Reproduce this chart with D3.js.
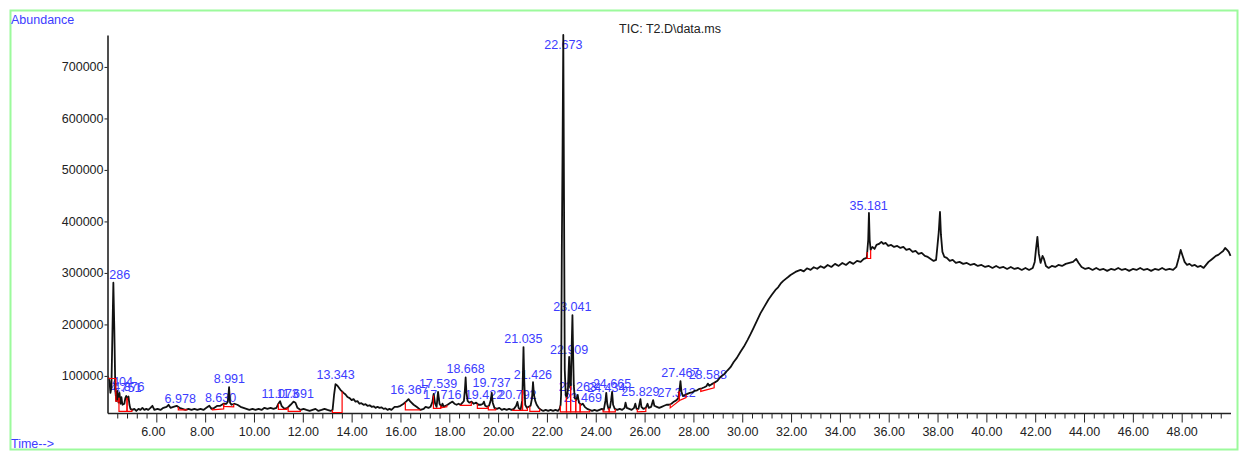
<!DOCTYPE html>
<html>
<head>
<meta charset="utf-8">
<script src="https://cdn.jsdelivr.net/npm/d3@7"></script>
<style>
  body { margin: 0; background: #fff; }
  svg text { font-family: "Liberation Sans", Arial, sans-serif; }
</style>
</head>
<body>
<svg id="chart" width="1240" height="451"></svg>
<script>

// TIC trace, [time (min), abundance]
var ticTrace = [
  [4.00,100000],[4.04,96000],[4.08,90000],[4.12,67000],[4.16,77000],[4.20,180000],[4.24,281000],[4.28,189000],
  [4.32,73000],[4.36,51000],[4.40,71000],[4.45,48000],[4.49,67000],[4.53,46000],[4.57,59000],[4.61,44000],
  [4.69,46000],[4.73,57000],[4.77,61000],[4.82,55000],[4.86,60000],[4.90,44000],[4.94,36000],[5.02,34000],
  [5.10,36000],[5.18,32000],[5.27,36000],[5.35,34000],[5.43,38000],[5.51,34000],[5.59,36000],[5.67,34000],
  [5.76,38000],[5.84,42000],[5.92,34000],
  [6.05,36000],[6.17,34000],[6.29,38000],[6.42,40000],[6.50,44000],[6.58,38000],[6.70,40000],[6.83,42000],
  [6.95,38000],[7.07,36000],[7.19,34000],[7.32,36000],[7.44,34000],[7.56,36000],[7.68,34000],[7.81,36000],
  [7.93,34000],[8.05,38000],[8.17,42000],[8.26,36000],[8.38,38000],[8.50,42000],[8.62,42000],[8.75,46000],
  [8.87,46000],[8.93,50000],[8.98,78000],[9.02,48000],[9.08,44000],[9.20,46000],[9.32,44000],[9.45,40000],
  [9.57,38000],[9.69,36000],[9.81,34000],[9.94,36000],
  [10.06,34000],[10.19,36000],[10.31,34000],[10.43,38000],[10.55,36000],[10.68,38000],[10.80,36000],[10.92,38000],
  [11.00,46000],[11.07,51000],[11.13,42000],[11.25,36000],[11.37,38000],[11.50,44000],[11.62,50000],[11.70,48000],
  [11.78,38000],[11.91,34000],[12.03,36000],[12.15,34000],[12.28,32000],[12.40,34000],[12.52,36000],[12.64,32000],
  [12.77,34000],[12.89,36000],[13.01,34000],[13.14,32000],[13.22,34000],[13.28,63000],[13.34,84000],[13.42,81000],
  [13.54,73000],[13.67,67000],[13.75,64000],[13.83,59000],[13.92,57000],[14.00,53000],[14.08,55000],[14.16,50000],
  [14.24,51000],[14.32,46000],[14.40,47000],[14.49,44000],[14.57,45000],[14.65,42000],[14.74,43000],[14.82,40000],
  [14.90,41000],[14.98,38000],[15.06,40000],[15.14,38000],[15.22,39000],[15.31,36000],[15.39,37000],[15.47,34000],
  [15.55,36000],[15.63,34000],[15.76,40000],[15.88,40000],[16.00,42000],[16.13,46000],[16.25,51000],[16.33,55000],
  [16.41,50000],[16.54,44000],[16.66,40000],
  [16.82,34000],[16.95,36000],[17.03,40000],[17.15,38000],[17.23,40000],[17.31,49500],[17.36,65000],[17.42,46000],
  [17.48,40000],[17.54,69000],[17.60,46000],[17.68,40000],[17.72,46000],[17.78,40000],[17.85,42000],[17.93,44000],
  [18.05,48000],[18.13,50000],[18.21,46000],[18.30,44000],[18.38,46000],[18.46,44000],[18.54,48000],[18.60,51500],
  [18.64,73000],[18.67,97000],[18.70,69000],[18.75,51500],[18.82,48000],[18.91,50000],[19.00,46000],[19.10,48000],
  [19.20,44000],[19.30,44000],[19.38,46000],[19.42,50000],[19.47,42000],[19.55,40000],[19.63,42000],[19.70,53000],
  [19.74,67000],[19.78,48000],[19.85,38000],[19.95,36000],[20.05,38000],[20.15,34000],[20.25,36000],[20.35,34000],
  [20.45,36000],[20.55,34000],[20.65,36000],[20.74,42000],[20.79,49500],[20.84,38000],[20.92,34000],[20.99,53000],
  [21.02,112000],[21.04,156000],[21.07,92000],[21.11,44000],[21.18,38000],[21.25,40000],[21.33,42000],[21.39,57000],
  [21.43,88000],[21.47,63000],[21.52,51500],[21.58,44000],[21.66,38000],[21.76,34000],[21.85,32000],[21.95,34000],
  [22.05,32000],[22.15,34000],[22.25,32000],[22.35,34000],[22.45,32000],[22.52,36000],
  [22.56,44000],[22.58,63000],[22.61,345000],[22.64,539000],[22.67,762000],[22.70,442000],[22.73,112000],[22.77,63000],
  [22.81,57000],[22.86,73000],[22.91,137000],[22.95,77000],[22.98,82000],[23.02,170000],[23.045,218000],[23.07,150000],
  [23.10,82000],[23.14,57000],[23.20,53000],[23.26,63000],[23.31,48000],[23.40,44000],[23.47,46000],[23.55,40000],
  [23.65,36000],[23.75,34000],
  [23.85,32000],[23.95,34000],[24.05,32000],[24.15,34000],[24.25,36000],[24.33,34000],[24.40,53000],[24.43,67000],
  [24.47,46000],[24.52,36000],[24.58,38000],[24.63,53000],[24.67,69000],[24.71,44000],[24.78,36000],[24.88,34000],
  [24.98,36000],[25.08,34000],[25.18,38000],[25.22,48000],[25.27,38000],[25.37,36000],[25.47,34000],[25.57,38000],
  [25.62,46000],[25.67,36000],[25.75,36000],[25.83,55000],[25.87,40000],[25.95,36000],[26.05,38000],[26.12,46000],
  [26.17,38000],[26.27,40000],[26.35,53000],[26.40,42000],[26.50,40000],[26.60,38000],[26.70,40000],[26.80,42000],
  [26.90,44000],[27.00,44000],[27.10,46000],[27.20,50000],[27.31,53000],[27.38,57000],[27.43,73000],[27.47,90000],
  [27.51,69000],[27.57,61000],[27.65,63000],[27.75,65000],[27.85,67000],[27.95,68000],[28.05,71000],[28.15,72000],
  [28.25,75000],[28.35,76000],[28.45,78000],[28.53,80000],[28.59,85000],[28.65,81000],[28.75,84000],[28.83,86000],
  [28.97,90000],[29.11,98000],[29.25,103000],[29.40,111000],[29.52,117000],[29.65,127000],[29.78,135000],[29.93,147000],
  [30.07,157000],[30.22,170000],[30.34,181000],[30.46,193000],[30.60,207000],[30.75,222000],[30.90,234000],[31.07,248000],
  [31.22,258000],[31.36,267000],[31.47,272000],[31.57,279000],[31.67,284000],[31.77,288000],[31.88,292000],[31.98,296000],
  [32.08,299000],[32.18,302000],[32.28,304000],[32.39,306000],[32.52,303000],[32.65,309000],[32.80,306000],[32.93,311000],
  [33.07,308000],[33.21,313000],
  [33.35,309700],[33.50,315500],[33.65,311600],[33.80,317500],[33.95,313600],[34.10,319400],[34.25,315500],[34.40,321400],
  [34.55,317500],[34.70,323300],[34.85,321400],[34.98,327200],[35.10,329100],[35.16,364000],[35.19,416500],[35.22,364000],
  [35.26,344700],[35.33,350500],[35.42,346600],[35.50,354400],[35.60,356300],[35.70,360200],[35.78,356300],[35.88,358200],
  [35.98,352400],[36.10,354400],[36.22,350500],[36.35,352400],[36.48,348500],[36.60,350500],[36.72,344700],[36.85,346600],
  [36.98,340800],[37.10,342700],[37.22,336900],[37.35,338900],[37.48,333000],[37.60,331000],[37.72,327200],[37.84,323300],
  [37.94,325200],[38.00,354400],[38.05,379600],[38.10,418400],[38.14,373800],[38.20,340800],[38.28,331000],[38.38,329100],
  [38.50,323300],[38.62,325200],[38.75,319400],[38.90,321400],[39.05,317500],[39.20,319400],[39.35,315500],[39.50,317500],
  [39.65,313600],[39.80,315500],[39.95,311600],[40.10,313600],[40.25,309700],[40.40,313600],[40.55,309700],[40.70,311600],
  [40.85,307700],[41.00,311600],[41.15,307700],[41.30,309700],[41.45,305800],[41.60,309700],[41.75,305800],[41.90,309700],
  [41.98,321400],[42.03,344700],[42.09,369900],[42.15,336900],[42.22,319400],[42.30,333000],[42.36,327200],[42.44,313600],
  [42.55,309700],[42.68,313600],[42.82,311600],[42.95,315500],[43.10,313600],[43.25,317500],[43.40,319400],[43.55,321400],
  [43.68,327200],[43.78,319400],[43.90,311600],[44.05,307700],[44.20,309700],[44.35,305800],[44.50,309700],[44.65,305800],
  [44.80,307700],[44.95,303900],[45.10,307700],[45.25,305800],[45.40,309700],[45.55,305800],[45.70,307700],[45.85,303900],
  [46.00,307700],[46.15,305800],[46.30,309700],[46.45,305800],[46.60,307700],[46.75,303900],[46.90,307700],[47.05,305800],
  [47.20,309700],[47.35,305800],[47.50,307700],[47.65,305800],[47.78,311600],[47.88,329100],[47.96,344700],[48.04,333000],
  [48.12,321400],[48.22,315500],[48.32,317500],[48.42,313600],[48.54,315500],[48.66,311600],[48.78,313600],[48.90,309700],
  [49.00,315500],[49.10,321400],[49.20,325200],[49.30,329100],[49.40,333000],[49.50,335000],[49.60,338900],[49.70,342700],
  [49.78,348500],[49.86,344700],[49.93,340800],[50.00,333000]
];

// integrated peaks: retention time and label anchor height
var peakTimes = [4.286, 4.404, 4.751, 4.876, 6.978, 8.630, 8.991, 11.073, 11.691, 13.343, 16.367, 17.539,
  17.716, 18.668, 19.422, 19.737, 20.792, 21.035, 21.426, 22.673, 22.909, 23.041, 23.263, 23.469,
  24.434, 24.665, 25.829, 27.312, 27.467, 28.588, 35.181];
var peakHeights = [280600, 72800, 61000, 63000, 39800, 41700, 78600, 49500, 49500, 86400, 57300, 69000,
  47600, 97000, 47600, 70900, 47600, 157000, 86400, 762000, 135000, 218000, 63000, 41000,
  61000, 69000, 53000, 51500, 91000, 86000, 415000];

// integration baselines: [start, end, start level, end level]
var baselines = [
  [4.03, 4.34, 95000, 95000], [4.34, 4.47, 51000, 51000], [4.47, 4.80, 31000, 31000], [4.80, 5.00, 31000, 31000],
  [6.90, 7.25, 34000, 34000], [8.30, 8.76, 34000, 36000], [8.76, 9.17, 41000, 40000], [11.00, 11.35, 35000, 35000],
  [11.40, 11.90, 31000, 31000], [13.21, 13.61, 29000, 29000], [16.20, 16.80, 34000, 34000], [17.35, 17.65, 37000, 37000],
  [17.65, 17.90, 38000, 40000], [18.45, 18.90, 43000, 43000], [19.15, 19.60, 37000, 37000], [19.60, 19.90, 34000, 34000],
  [20.60, 21.00, 33000, 33000], [21.00, 21.20, 33000, 33000], [21.30, 21.70, 31000, 31000], [22.55, 22.80, 30000, 30000],
  [22.80, 22.97, 30000, 30000], [22.97, 23.18, 30000, 30000], [23.18, 23.36, 30000, 30000], [23.36, 23.75, 30000, 30000],
  [24.30, 24.55, 30000, 30000], [24.55, 24.80, 30000, 30000], [25.70, 26.05, 30000, 31000], [27.05, 27.42, 38000, 52000],
  [27.42, 27.70, 52000, 58000], [28.30, 28.85, 70000, 77000], [35.12, 35.26, 328000, 328000]
];

var yTickValues = [100000, 200000, 300000, 400000, 500000, 600000, 700000];
var chartTitle = "TIC: T2.D\\data.ms";

var svg = d3.select("#chart");
var x = d3.scaleLinear().domain([4, 50]).range([107.5, 1230.5]);
var y = d3.scaleLinear().domain([28000, 762000]).range([413, 35]);

svg.append("rect")
    .attr("x", 10.5).attr("y", 10.5).attr("width", 1227).attr("height", 439)
    .attr("fill", "none").attr("stroke", "#9cfa9c").attr("stroke-width", 2);

svg.append("defs").append("clipPath").attr("id", "plotclip")
  .append("rect").attr("x", 108.5).attr("y", 0).attr("width", 1130).attr("height", 451);

// axes
var minorTicks = d3.range(11, 125).map(function(i) { return Math.round(i * 4) / 10; });
var isMajor = function(t) { return Math.abs(t / 2 - Math.round(t / 2)) < 1e-9; };

var gMinor = svg.append("g").attr("transform", "translate(0,413)")
    .call(d3.axisBottom(x).tickValues(minorTicks.filter(function(t) { return !isMajor(t); }))
      .tickSize(5.5).tickFormat("").tickSizeOuter(0));
gMinor.select(".domain").remove();

var gx = svg.append("g").attr("transform", "translate(0,413)")
    .call(d3.axisBottom(x).tickValues(minorTicks.filter(isMajor))
      .tickSize(9.5).tickPadding(4.5).tickFormat(d3.format(".2f")).tickSizeOuter(0));
gx.selectAll(".tick text").attr("dx", function(d) { return d < 10 ? -3.5 : 0; });

var gy = svg.append("g").attr("transform", "translate(107.5,0)")
    .call(d3.axisLeft(y).tickValues(yTickValues).tickSize(3).tickPadding(1)
      .tickFormat(d3.format("d")).tickSizeOuter(0));

svg.selectAll(".domain").attr("stroke", "#222").attr("stroke-width", 1.6);
svg.selectAll(".tick line").attr("stroke", "#222").attr("stroke-width", 1);
svg.selectAll(".tick text").attr("fill", "#222").attr("font-size", "12.5px")
    .attr("font-family", "'Liberation Sans', Arial, sans-serif");

// titles
svg.append("text").attr("x", 11).attr("y", 23.5).attr("fill", "#3c3cff")
    .attr("font-size", "12.5px").text("Abundance");
svg.append("text").attr("x", 11).attr("y", 448).attr("fill", "#3c3cff")
    .attr("font-size", "12.5px").text("Time-->");
svg.append("text").attr("x", 670).attr("y", 32.5).attr("fill", "#222")
    .attr("text-anchor", "middle").attr("font-size", "12.5px").text(chartTitle);

var plot = svg.append("g").attr("clip-path", "url(#plotclip)");

// peak labels (under the trace)
plot.selectAll("text.peak")
    .data(peakTimes)
  .enter().append("text")
    .attr("class", "peak")
    .attr("x", function(d) { return x(d); })
    .attr("y", function(d, i) { return Math.max(y(peakHeights[i]) - 4, 48.5); })
    .attr("text-anchor", "middle")
    .attr("fill", "#3c3cff")
    .attr("font-size", "12.5px")
    .text(function(d) { return d3.format(".3f")(d); });

// trace
var line = d3.line()
    .x(function(d) { return x(d[0]); })
    .y(function(d) { return y(d[1]); });

plot.append("path")
    .datum(ticTrace)
    .attr("d", line)
    .attr("fill", "none")
    .attr("stroke", "#111")
    .attr("stroke-width", 1.8)
    .attr("stroke-linejoin", "round");

// signal at a given time (for the baseline tick ends)
var bisect = d3.bisector(function(d) { return d[0]; }).left;
function signalAt(t) {
  var i = bisect(ticTrace, t);
  if (i <= 0) return ticTrace[0][1];
  if (i >= ticTrace.length) return ticTrace[ticTrace.length - 1][1];
  var a = ticTrace[i - 1], b = ticTrace[i];
  return a[1] + (b[1] - a[1]) * (t - a[0]) / (b[0] - a[0]);
}

plot.selectAll("path.base")
    .data(baselines)
  .enter().append("path")
    .attr("class", "base")
    .attr("d", function(d) {
      return "M" + x(d[0]) + "," + y(signalAt(d[0])) +
             "L" + x(d[0]) + "," + y(d[2]) +
             "L" + x(d[1]) + "," + y(d[3]) +
             "L" + x(d[1]) + "," + y(signalAt(d[1]));
    })
    .attr("fill", "none")
    .attr("stroke", "#ff0000")
    .attr("stroke-width", 1.2);

</script>
</body>
</html>
